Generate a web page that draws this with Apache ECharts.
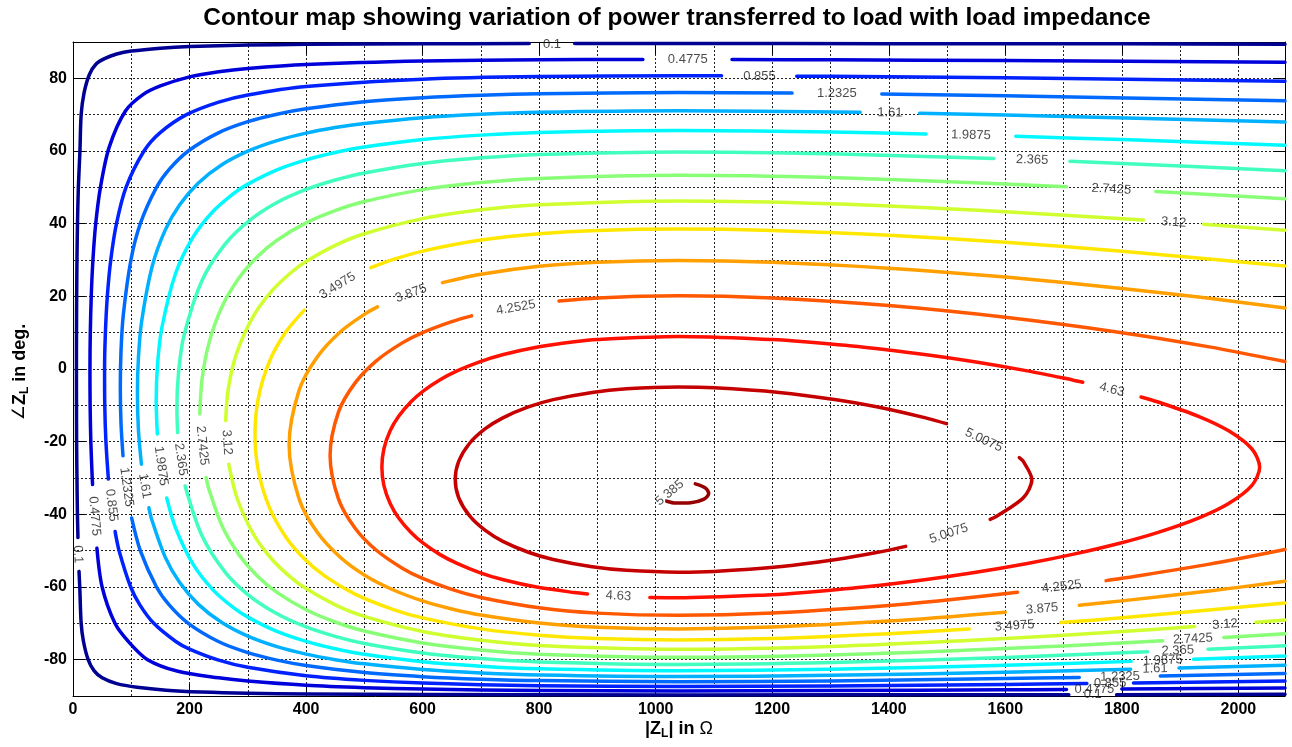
<!DOCTYPE html>
<html>
<head>
<meta charset="utf-8">
<title>Contour map of load power</title>
<script src="https://cdn.jsdelivr.net/npm/echarts@6/dist/echarts.min.js"></script>
<style>
  html, body { margin: 0; padding: 0; background: #ffffff; }
  #chart { width: 1292px; height: 747px; }
</style>
</head>
<body>
<div id="chart"></div>
<script>
// Power levels of the contour lines
const levels = [0.1, 0.4775, 0.855, 1.2325, 1.61, 1.9875, 2.365, 2.7425, 3.12, 3.4975, 3.875, 4.2525, 4.63, 5.0075, 5.385];

// Tick values of both axes
const xTicks = [0, 200, 400, 600, 800, 1000, 1200, 1400, 1600, 1800, 2000];
const yTicks = [-80, -60, -40, -20, 0, 20, 40, 60, 80];

// Contour traces as [|Z_L| in ohm, angle of Z_L in deg]; null leaves room for an inline label
const contour_0100 = [[2080,89.4],[1800,89.5],[1400,89.55],[1039,89.6],[861,89.6],null,[783,89.6],[600,89.5],[400,89.35],[300,89.15],[200,88.75],[150,88.3],[100,87.5],[75,86.7],[55,85.5],[40,84],[28,81],[19,76],[14,70],[11.9,60],[9.2,50],[7.7,40],[6.8,30],[6.3,20],[6.0,10],[5.9,0],[6.0,-10],[6.2,-20],[6.8,-30],[7.6,-40],[8.5,-46.4],null,[10.3,-55.7],[11.6,-60],[14,-70],[18,-75],[26,-80],[36,-83],[50,-85],[75,-86.6],[110,-87.6],[160,-88.4],[220,-88.9],[300,-89.25],[400,-89.45],[600,-89.6],[1039,-89.7],[1709,-89.65],null,[1791,-89.63],[2080,-89.55]];
const contour_0478 = [[2080,84.4],[1600,84.9],[1300,85.1],[1131,85.2],null,[978,85.2],[800,85.1],[600,84.75],[400,83.8],[300,82.7],[250,81.8],[200,80.4],[150,77.9],[120,75.5],[90,71],[62,61],[47.1,50],[39.0,40],[34.2,30],[31.3,20],[29.7,10],[29.1,0],[29.4,-10],[30.6,-20],[33.0,-30],[33.6,-31.8],null,[41,-49.3],[50,-60],[72,-70],[95,-75],[128,-80],[180,-83.2],[250,-85.0],[300,-85.9],[400,-87.05],[500,-87.7],[600,-88.1],[800,-88.48],[1039,-88.59],[1300,-88.51],[1600,-88.29],[1705,-88.19],null,[1800,-88.1],[2080,-87.79]];
const contour_0855 = [[2080,79.2],[1600,80.13],[1300,80.55],[1242,80.6],null,[1113,80.69],[1039,80.7],[800,80.49],[600,79.77],[400,77.75],[300,75.43],[250,73.46],[194.8,70],[149.2,65],[121.9,60],[91.0,50],[74.6,40],[64.8,30],[58.9,20],[55.6,10],[54.2,0],[54.5,-10],[56.5,-20],[60.7,-30.3],null,[72.2,-44.7],[79.1,-50],[99.0,-60],[115.0,-65],[138.6,-70],[176.4,-75],[200,-77.1],[250,-80.14],[300,-82.11],[400,-84.43],[500,-85.7],[600,-86.45],[800,-87.17],[1039,-87.38],[1300,-87.23],[1600,-86.81],[1740,-86.57],null,[1820,-86.41],[2080,-85.88]];
const contour_1233 = [[2080,73.8],[1600,75.21],[1388,75.69],null,[1234,75.93],[1039,76.07],[800,75.76],[700,75.36],[600,74.67],[500,73.54],[400,71.61],[350,70.13],[300,68.07],[249.5,65],[197.8,60],[165.4,55],[143.3,50],[115.5,40],[99.4,30],[86.4,15],[82.4,5],[81.2,-5],[82.4,-15],[85.8,-23.9],null,[100.6,-41.0],[115.5,-50],[143.3,-60],[165.4,-65],[197.8,-70],[249.5,-75],[300,-78.07],[350,-80.13],[400,-81.61],[500,-83.54],[600,-84.67],[700,-85.36],[800,-85.76],[1039,-86.07],[1300,-85.84],[1600,-85.21],[1727,-84.88],null,[1866,-84.48],[2080,-83.8]];
const contour_1610 = [[2080,67.95],[1600,69.9],[1453,70.37],null,[1351,70.64],[1039,71.07],[800,70.65],[700,70.09],[600,69.16],[500,67.59],[450,66.45],[400,64.92],[350,62.86],[300,59.96],[255.4,56.22],[215.2,51.22],[183.1,45.22],[158.2,38.22],[135.8,28.22],[117.9,13.22],[112.3,3.2],[110.6,-6.78],[112.3,-16.8],[117.4,-26.2],null,[130.2,-38.2],[135.8,-41.78],[158.2,-51.78],[183.1,-58.78],[215.2,-64.78],[255.4,-69.78],[300,-73.52],[350,-76.42],[400,-78.48],[450,-80.0],[500,-81.15],[600,-82.72],[700,-83.65],[800,-84.21],[1039,-84.63],[1300,-84.32],[1600,-83.46],[1815,-82.65],null,[1898,-82.31],[2080,-81.51]];
const contour_1988 = [[2080,61.57],[1800,63.14],[1618,64.03],null,[1464,64.68],[1300,65.23],[1039,65.64],[800,65.09],[700,64.37],[600,63.14],[500,61.09],[450,59.58],[400,57.56],[350,54.81],[300,50.88],[275.4,48.29],[239.8,43.29],[206.0,36.29],[176.0,26.29],[152.4,11.29],[145.1,1.3],[142.8,-8.71],[144.7,-17.9],null,[160.8,-35.5],[176.0,-43.71],[206.0,-53.71],[239.8,-60.71],[275.4,-65.71],[300,-68.3],[350,-72.23],[400,-74.98],[450,-77.0],[500,-78.51],[600,-80.56],[700,-81.79],[800,-82.51],[1039,-83.06],[1300,-82.65],[1600,-81.53],[1816,-80.47],null,[1923,-79.89],[2080,-78.99]];
const contour_2365 = [[2080,54.58],[1800,56.58],[1711,57.15],null,[1580,57.93],[1300,59.24],[1039,59.75],[800,59.06],[700,58.14],[600,56.59],[500,53.97],[450,52.02],[400,49.41],[350,45.8],[300,40.52],[260.3,34.22],[221.0,24.22],[190.5,9.22],[181.2,-0.8],[178.3,-10.78],[179.6,-17.5],null,[192.4,-32.2],[221.0,-45.78],[260.3,-55.78],[300,-62.08],[350,-67.36],[400,-70.97],[450,-73.58],[500,-75.53],[600,-78.15],[700,-79.7],[800,-80.62],[1039,-81.31],[1300,-80.8],[1600,-79.38],[1844,-77.85],null,[1948,-77.12],[2080,-76.14]];
const contour_2743 = [[2080,46.85],[1858,48.87],null,[1705,50.13],[1600,50.92],[1300,52.68],[1039,53.32],[800,52.46],[700,51.32],[600,49.37],[500,46.08],[450,43.59],[400,40.21],[350,35.43],[316.8,30.98],[284.5,24.98],[255.3,16.98],[233.1,6.98],[221.3,-3.0],[217.7,-12.4],null,[228.4,-29.9],[233.1,-33.02],[255.3,-43.02],[284.5,-51.02],[316.8,-57.02],[350,-61.47],[400,-66.25],[450,-69.63],[500,-72.12],[600,-75.41],[700,-77.36],[800,-78.5],[1039,-79.36],[1300,-78.72],[1600,-76.96],[1870,-74.81],null,[1975,-73.87],[2080,-72.89]];
const contour_3120 = [[2080,38.21],[1940,39.86],null,[1837,40.99],[1600,43.31],[1300,45.5],[1039,46.27],[800,45.22],[700,43.81],[600,41.39],[500,37.23],[450,34.04],[400,29.58],[374.3,26.57],[341.7,21.57],[309.6,14.57],[281.3,4.57],[266.5,-5.4],[262.0,-14.2],null,[267.3,-26.2],[281.3,-35.43],[309.6,-45.43],[341.7,-52.43],[374.3,-57.43],[400,-60.44],[450,-64.9],[500,-68.09],[600,-72.25],[700,-74.67],[800,-76.08],[1039,-77.13],[1300,-76.36],[1600,-74.17],[1800,-72.24],[1925,-70.89],null,[2030,-69.67],[2080,-69.07]];
const contour_3498 = [[2080,28.38],[1800,32.44],[1600,34.86],[1400,36.81],[1200,38.13],[1039,38.52],[900,38.14],[800,37.22],[700,35.48],[600,32.45],[550,30.16],[511,27.87],null,[397,16.21],[364.3,9.98],[336.8,1.98],[318.1,-8.0],[312.3,-18.02],[318.1,-28.0],[336.8,-38.02],[364.3,-46.02],[395.6,-52.02],[432.4,-57.02],[484.9,-62.02],[550,-66.2],[600,-68.49],[700,-71.52],[800,-73.26],[900,-74.18],[1039,-74.56],[1200,-74.17],[1400,-72.85],[1538,-71.56],null,[1695,-69.8],[1800,-68.48],[2080,-64.42]];
const contour_3875 = [[2080,16.8],[1950,19.45],[1800,22.18],[1600,25.29],[1400,27.75],[1200,29.4],[1039,29.89],[900,29.41],[800,28.27],[700,26.08],[634,23.77],null,[522.6,17.11],[501.3,15.18],[458.6,10.18],[418.6,3.18],[388.1,-5.82],[370.9,-20.82],[388.1,-35.82],[418.6,-44.82],[458.6,-51.82],[501.3,-56.82],[550,-60.83],[600,-63.84],[650,-66.05],[700,-67.72],[800,-69.91],[900,-71.05],[1039,-71.53],[1200,-71.04],[1400,-69.39],[1600,-66.93],null,[1727,-65.03],[1800,-63.82],[1950,-61.09],[2080,-58.44]];
const contour_4253 = [[2080,2.04],[1950,6.09],[1800,10.0],[1600,14.22],[1400,17.45],[1200,19.55],[1039,20.17],[900,19.57],[834,18.72],null,[684,14.63],[650,13.04],[600,10.02],[565.1,7.19],[520.1,2.19],[484.2,-3.81],[455.7,-11.81],[441.2,-23.81],[455.7,-35.81],[484.2,-43.81],[520.1,-49.81],[565.1,-54.81],[600,-57.64],[650,-60.66],[700,-62.88],[800,-65.72],[900,-67.19],[1039,-67.79],[1200,-67.17],[1400,-65.07],[1500,-63.59],[1621,-61.45],null,[1773,-58.25],[1800,-57.62],[1950,-53.71],[2080,-49.66]];
const contour_4630 = [[1733,-3.64],[1715.4,-3.02],[1637.8,-0.52],[1547.0,1.98],[1461.3,3.98],[1357.0,5.98],[1255.2,7.48],[1200,8.09],[1039,8.92],[900,8.11],[860,7.48],[795.5,5.98],[738.7,3.98],[697.8,1.98],[659.1,-0.52],[629.3,-3.02],[601.5,-6.02],[580.1,-9.02],[558.9,-13.02],[544.3,-17.02],[533.5,-22.02],[530.1,-27.02],[533.5,-32.02],[544.3,-37.02],[558.9,-41.02],[580.1,-45.02],[601.5,-48.02],[629.3,-51.02],[659.1,-53.52],[697.8,-56.02],[738.7,-58.02],[795.5,-60.02],[860,-61.52],[883,-61.9],null,[990,-62.88],[1039,-62.96],[1200,-62.13],[1255.2,-61.52],[1357.0,-60.02],[1461.3,-58.02],[1547.0,-56.02],[1637.8,-53.52],[1715.4,-51.02],[1794.6,-48.02],[1860.9,-45.02],[1931.5,-41.02],[1983.3,-37.02],[2023.3,-32.02],[2036.5,-27.02],[2023.3,-22.02],[1983.3,-17.02],[1931.5,-13.02],[1860.9,-9.02],[1833,-7.69]];
const contour_5008 = [[1499,-15.05],[1463.3,-13.44],[1381.3,-10.44],[1309.9,-8.44],[1211.7,-6.44],[1100,-5.17],[1039,-4.97],[950,-5.46],[890.9,-6.44],[824.1,-8.44],[781.5,-10.44],[737.7,-13.44],[707.6,-16.44],[680.7,-20.44],[661.9,-25.44],[656.0,-30.44],[661.9,-35.44],[680.7,-40.44],[707.6,-44.44],[737.7,-47.44],[781.5,-50.44],[824.1,-52.44],[890.9,-54.44],[950,-55.42],[1039,-55.91],[1100,-55.71],[1211.7,-54.44],[1309.9,-52.44],[1381.3,-50.44],[1429,-48.81],null,[1574,-41.38],[1585.9,-40.44],[1630.9,-35.44],[1645.6,-30.44],[1630.9,-25.44],[1624,-24.37]];
const contour_5385 = [[1068,-31.6],[1085,-32.7],[1091,-34.3],[1082,-35.9],[1060,-36.8],[1034,-36.9],[1019,-36.4]];

// Inline labels: [index into levels, |Z_L|, angle]
const labelAt = [
  [0,822,89.35],[1,1055,85.2],[2,1178,80.65],[3,1311,75.8],[4,1402,70.5],[5,1541,64.35],[6,1646,57.55],[7,1782,49.5],[8,1889,40.4],
  [0,8.5,-51.0],[1,37,-40.5],[2,66,-37.5],[3,92,-32.5],[4,123,-32.2],[5,151,-26.7],[6,185,-24.9],[7,222,-21.1],[8,264,-20.2],
  [9,454,22.9],[10,580,20.8],[11,760,16.9],
  [12,1783,-5.7],[12,936,-62.5],[13,1563,-19.6],[13,1503,-45.3],[14,1024,-34.1],
  [11,1697,-59.9],[10,1663,-66.0],[9,1616,-70.7],[8,1977,-70.3],[7,1922,-74.3],[6,1896,-77.5],[5,1870,-80.2],[4,1857,-82.5],[3,1797,-84.7],[2,1780,-86.5],[1,1753,-88.15],[0,1750,-89.6]
];
// Text rotation of each label (degrees, counter-clockwise), following its line
const labelAngle = [
  0,0,0,0,-1,-1.5,-2,-3,-4,
  -88,-85,-83,-82,-80,-82,-82,-84,-86,
  32,20,10,
  -14,-3,-25,18,40,
  7,5,4,4,3,2.5,2,1.5,1.5,1,0,0
];

const contours = [contour_0100, contour_0478, contour_0855, contour_1233, contour_1610, contour_1988, contour_2365,
  contour_2743, contour_3120, contour_3498, contour_3875, contour_4253, contour_4630, contour_5008, contour_5385];

// jet colour for each level
const lineColors = ['#000092', '#0000DA', '#0022FF', '#006AFF', '#00B1FF', '#00F8FF', '#41FFBE', '#88FF77',
  '#D0FF2F', '#FFE700', '#FF9F00', '#FF5800', '#FF1000', '#C40000', '#960000'];

const FONT = "'Liberation Sans', Arial, Helvetica, sans-serif";

const series = [];
contours.forEach(function (pts, i) {
  let seg = [];
  const flush = function () {
    if (seg.length > 1) {
      series.push({
        type: 'line', data: seg, smooth: 0.3, showSymbol: false, symbol: 'none',
        lineStyle: { color: lineColors[i], width: 3.5, cap: 'round', join: 'round' },
        clip: true, silent: true, z: 2, animation: false
      });
    }
    seg = [];
  };
  pts.forEach(function (p) { if (p === null) flush(); else seg.push(p); });
  flush();
});

series.push({
  type: 'scatter', symbolSize: 1, silent: true, z: 5, clip: false, animation: false,
  itemStyle: { color: 'rgba(0,0,0,0)' },
  label: { show: true, position: 'inside', fontSize: 13, color: '#1a1a1a', fontFamily: FONT },
  data: labelAt.map(function (p, k) {
    return { value: [p[1], p[2]], label: { formatter: String(levels[p[0]]), rotate: labelAngle[k] } };
  })
});

// axes that only carry the frame line and the inward tick marks
function frameAxis(extra, ticks) {
  return Object.assign({
    type: 'value',
    axisLine: { show: true, onZero: false, lineStyle: { color: '#000', width: 1 } },
    axisTick: { show: true, inside: true, length: 12, customValues: ticks, lineStyle: { color: '#000', width: 1 } },
    axisLabel: { show: false },
    splitLine: { show: false }
  }, extra);
}

const option = {
  animation: false,
  backgroundColor: '#ffffff',
  grid: { left: 73, right: 7, top: 42, bottom: 51, outerBoundsMode: 'none', containLabel: false },
  xAxis: [
    {
      type: 'value', min: 0, max: 2080, interval: 100, position: 'bottom',
      axisLine: { show: false, onZero: false }, axisTick: { show: false },
      axisLabel: {
        margin: 6, fontSize: 16, fontWeight: 'bold', color: '#000', fontFamily: FONT,
        formatter: function (v) { return xTicks.indexOf(v) >= 0 ? String(v) : ''; }
      },
      splitLine: { show: true, lineStyle: { color: '#222', width: 1, type: [2, 2] } }
    },
    frameAxis({ min: 0, max: 2080, interval: 200, position: 'bottom' }, xTicks),
    frameAxis({ min: 0, max: 2080, interval: 200, position: 'top' }, xTicks)
  ],
  yAxis: [
    {
      type: 'value', min: -90, max: 90, interval: 10, position: 'left',
      axisLine: { show: false, onZero: false }, axisTick: { show: false },
      axisLabel: {
        margin: 6, fontSize: 16, fontWeight: 'bold', color: '#000', fontFamily: FONT,
        formatter: function (v) { return yTicks.indexOf(v) >= 0 ? String(v) : ''; }
      },
      splitLine: { show: true, lineStyle: { color: '#222', width: 1, type: [2, 2] } }
    },
    frameAxis({ min: -90, max: 90, interval: 10, position: 'left' }, yTicks),
    frameAxis({ min: -90, max: 90, interval: 10, position: 'right' }, yTicks)
  ],
  graphic: [
    {
      type: 'text', x: 677, y: 18, silent: true,
      style: { text: 'Contour map showing variation of power transferred to load with load impedance',
        fontSize: 24.5, fontWeight: 'bold', fontFamily: FONT, fill: '#000', align: 'center', verticalAlign: 'middle' }
    },
    {
      type: 'text', x: 679, y: 729, silent: true,
      style: {
        text: '{b||Z}{s|L}{b|| in }{o|\u03A9}', align: 'center', verticalAlign: 'middle',
        rich: {
          b: { fontSize: 18, fontWeight: 'bold', fontFamily: FONT, fill: '#000' },
          s: { fontSize: 12, fontWeight: 'bold', fontFamily: FONT, fill: '#000', padding: [10, 0, 0, 0] },
          o: { fontSize: 18, fontFamily: FONT, fill: '#000' }
        }
      }
    },
    {
      type: 'text', x: 20, y: 372, rotation: Math.PI / 2, silent: true,
      style: {
        text: '{a|\u2220}{b|Z}{s|L}{b| in deg.}', align: 'center', verticalAlign: 'middle',
        rich: {
          a: { fontSize: 17, fontFamily: "'DejaVu Sans', sans-serif", fill: '#000' },
          b: { fontSize: 18, fontWeight: 'bold', fontFamily: FONT, fill: '#000' },
          s: { fontSize: 12, fontWeight: 'bold', fontFamily: FONT, fill: '#000', padding: [10, 0, 0, 0] }
        }
      }
    }
  ],
  series: series
};

const chart = echarts.init(document.getElementById('chart'), null, { renderer: 'canvas' });
chart.setOption(option);
</script>
</body>
</html>
